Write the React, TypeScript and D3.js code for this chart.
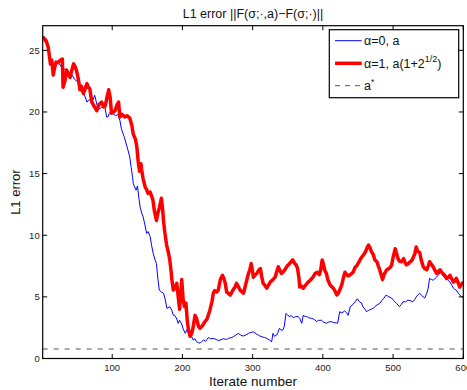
import React from "react";
import * as d3 from "d3";

const redIter = [1,4,7,9,12,14,16,18,20,23,26,29,30,33,35,38,40,42,45,47,49,52,54,56,59,62,64,66,68,71,74,78,81,85,88,90,93,95,97,99,102,104,107,109,111,114,118,121,125,128,130,133,135,137,139,141,142,144,147,149,151,154,156,158,160,163,165,167,170,172,173,175,177.5,180,182,184,185,187,190,192,194,196,198,199,201,203,205,207,209,211,213,215,218,220,223,225,229,232,235,239,242,244,246,249,251,254,257,259,261,263,265,268,272,275,277,279,282,285,287,290,294,296,298,300,301,304,306,309,311,313,315,318,320,323,325,329,332,334,336.5,339,341,343,346,349,351,354,357,360,362,364,366,367,369,372,376,379,382,386,389,392,395,397,399,401,403,405,407,410,413,415,418,420,422,424,427,429,431.5,434,436,439,441,443,446,448,450,453,455,458,461,463,465,467,469,472,474,477,479,481,483,485,487,489,491,494,496,498,500,503,505,507,509,512,515,517,519,522,524,526,528,531,533,535,538,540,543,545,548,550,552,555,557,560,562,564,567,569,571,574,576,579,581,583,586,588,590,593,595,597,600];
const redVal = [26.1,25.9,25.6,25.2,23.9,24.2,23.0,23.6,24.05,24.0,24.2,24.3,22.0,22.6,23.4,23.0,22.8,23.3,23.9,23.7,23.4,22.6,21.8,22.1,21.5,22.0,22.3,22.0,21.9,20.8,20.5,20.1,20.6,20.8,20.4,20.5,21.3,21.8,21.2,19.9,20.0,20.1,20.6,20.8,19.6,19.8,19.6,19.7,19.5,18.9,18.2,17.8,17.2,16.0,15.2,15.8,15.3,14.6,13.9,13.7,13.4,13.5,13.2,12.85,12.0,11.2,11.8,12.2,13.0,12.0,11.2,10.2,9.2,8.6,8.0,7.0,6.4,5.55,5.8,6.1,5.0,4.0,5.5,6.4,4.8,4.2,4.5,3.0,2.2,1.8,2.0,2.45,3.5,3.25,2.6,2.45,2.7,3.0,3.2,3.9,4.6,5.3,5.5,5.4,5.55,6.4,6.75,6.5,6.1,5.4,5.3,5.15,5.55,5.8,6.1,5.9,5.55,5.4,5.3,6.0,6.9,7.2,7.7,7.0,6.6,6.8,6.9,7.2,7.3,6.6,6.1,5.9,5.7,6.0,6.2,6.4,6.6,7.0,7.45,7.1,6.9,7.0,7.2,7.5,7.6,7.8,8.0,7.7,7.6,7.3,6.5,5.8,5.9,5.7,6.0,6.2,6.35,6.6,6.9,7.0,6.8,7.2,8.0,7.6,7.1,6.9,6.4,6.0,5.8,5.7,5.4,5.15,5.3,5.55,6.0,6.5,7.0,6.8,6.7,6.8,6.9,7.0,7.4,7.5,7.7,8.0,8.2,8.4,8.7,9.0,9.2,9.0,8.7,8.4,8.0,7.85,7.5,7.2,6.8,6.4,6.8,7.0,7.2,7.3,7.4,7.6,8.2,8.9,8.5,8.1,7.9,7.85,8.1,7.8,7.6,7.7,7.85,7.9,8.1,8.5,9.05,8.7,8.6,8.0,7.45,7.3,7.2,7.5,7.85,7.6,7.45,7.1,6.9,7.0,7.2,7.0,6.9,6.7,6.5,6.6,6.75,6.5,6.2,6.3,6.5,6.1,5.8,6.0,6.2];

const blueIter = [1,4,7,9,11,13,15,18,21,25,28,30,33,37,40,43,46,49,52,54,57,59,61,64,67,70,73,75,77,80,83,87,90,92,94,96,99,102,105,108,111,113,115,117,120,122,125,127,129,130,132,134,136,138,140,142,144,146,149,151,154,156,158.5,161,163,165,167,170,173,175,178,182,185,187,189,192,194,196,199,201,204,208,211,213,215.5,218,220,223,225,228,230,233,235,237,240,244,248,251,254,258,263,266,270,272.5,276,279.5,283,286.6,290,294,297,301,305,308,310.5,314,317,320,324,327,329,331,334,336,338,341,343,345,347.5,350,353,355,358,361,365,367,370,372,375,377,380,384,387,391,394,398,401,405,408,412,416,419,421,424,427,431,434,436,439,443,446,449,452,455,457,460,462,465,469,472,476,479,481,484,487,490,494,498,501,505,509,512,514,518,521,524,528,531,533,536,538,541,545,548,550,552,555,557,560,562,565,567,569,571,574,576,579,581,584,586,588,590,593,595,598,600];
const blueVal = [26.2,26.0,25.9,25.2,24.7,24.0,23.6,23.8,24.0,23.9,23.6,23.4,23.5,22.9,23.2,23.0,22.7,22.5,22.4,22.2,21.6,21.5,21.3,20.8,21.0,20.9,21.0,21.35,20.9,20.2,20.3,20.5,20.3,19.6,19.6,19.9,20.1,19.8,19.7,19.8,19.3,18.65,18.3,18.0,17.4,17.0,16.35,15.5,14.7,14.2,13.9,13.65,14.0,13.0,12.2,11.8,11.5,11.0,10.15,10.3,9.9,9.2,8.5,8.0,7.7,6.5,5.55,5.4,5.3,4.9,4.07,4.2,3.9,3.5,3.5,3.2,2.85,3.1,2.8,2.4,2.05,2.5,2.2,1.8,1.5,1.6,1.36,1.3,1.23,1.4,1.5,1.4,1.55,1.7,1.6,1.63,1.55,1.45,1.5,1.6,1.55,1.65,1.7,1.77,1.9,2.04,1.9,1.82,1.9,2.04,2.1,2.17,2.0,1.9,1.82,1.75,1.7,1.63,1.5,1.36,2.04,1.8,1.9,2.1,2.45,2.3,2.3,2.6,3.65,3.5,3.4,3.5,3.3,3.4,3.4,3.25,2.85,3.5,3.4,3.4,3.3,3.25,3.2,3.0,3.1,3.1,2.95,2.85,2.95,3.0,2.9,2.9,2.85,3.8,3.7,3.85,3.7,3.5,4.2,4.4,4.6,4.85,4.6,4.5,4.2,4.0,3.8,3.9,4.0,4.1,4.3,4.4,4.47,4.7,4.9,5.15,5.0,4.9,4.7,4.47,4.2,4.4,4.6,4.6,4.74,4.7,4.6,4.8,5.0,5.2,5.3,5.1,4.9,5.3,5.7,6.5,6.4,6.35,6.5,6.6,6.8,7.0,6.9,6.7,6.6,6.5,6.3,6.2,5.9,5.7,5.6,5.55,5.3,5.15,5.0,4.9];

const aStar = 0.77;
const xTicks = [100, 200, 300, 400, 500, 600];
const yTicks = [0, 5, 10, 15, 20, 25];
const xDomain = [1, 600];
const yDomain = [0, 27];

const W = 467, H = 390;
const L = 42.7, R = 463.3, T = 25.7, B = 358.5;
const FONT = "'Liberation Sans', Arial, Helvetica, sans-serif";

export default function App() {
  const x = d3.scaleLinear().domain(xDomain).range([L, R]);
  const y = d3.scaleLinear().domain(yDomain).range([B, T]);
  const line = d3.line<[number, number]>().x(d => x(d[0])).y(d => y(d[1]));
  const red = line(redIter.map((it, i) => [it, redVal[i]]) as [number, number][]) || "";
  const blue = line(blueIter.map((it, i) => [it, blueVal[i]]) as [number, number][]) || "";
  const tl = 4.5;

  const legX = 329.3, legY = 29.7, legW = 129.4, legH = 68;
  const lx1 = 335, lx2 = 361.7, tx = 364;
  const rows = [40.7, 63.3, 85.7];

  return (
    <svg width={W} height={H} style={{ position: "absolute", left: 0, top: 0, background: "#fff" }} fontFamily={FONT}>
      <rect x={0} y={0} width={W} height={H} fill="#fff" />
      <defs>
        <clipPath id="plotclip">
          <rect x={L} y={T} width={R - L} height={B - T} />
        </clipPath>
      </defs>
      <g clipPath="url(#plotclip)">
        <line x1={L} x2={R} y1={y(aStar)} y2={y(aStar)} stroke="#555" strokeWidth={1} strokeDasharray="5,6" />
        <path d={blue} fill="none" stroke="#0000ff" strokeWidth={1} strokeLinejoin="round" />
        <path d={red} fill="none" stroke="#ff0000" strokeWidth={3.5} strokeLinejoin="round" />
      </g>
      <rect x={L} y={T} width={R - L} height={B - T} fill="none" stroke="#000" strokeWidth={1.2} />
      {xTicks.map(t => (
        <g key={"x" + t}>
          <line x1={x(t)} x2={x(t)} y1={B} y2={B - tl} stroke="#000" />
          <line x1={x(t)} x2={x(t)} y1={T} y2={T + tl} stroke="#000" />
          <text x={x(t)} y={371} fontSize={9.5} textAnchor="middle" fill="#222">{t}</text>
        </g>
      ))}
      {yTicks.map(t => (
        <g key={"y" + t}>
          <line x1={L} x2={L + tl} y1={y(t)} y2={y(t)} stroke="#000" />
          <line x1={R} x2={R - tl} y1={y(t)} y2={y(t)} stroke="#000" />
          <text x={L - 3} y={y(t) + 3.3} fontSize={9.5} textAnchor="end" fill="#222">{t}</text>
        </g>
      ))}
      <text x={(L + R) / 2} y={17.5} fontSize={12.5} textAnchor="middle" fill="#111">L1 error ||F(σ;·,a)−F(σ;·)||</text>
      <text x={(L + R) / 2} y={386} fontSize={13.5} textAnchor="middle" fill="#111">Iterate number</text>
      <text transform={`translate(20,${(T + B) / 2}) rotate(-90)`} fontSize={13} textAnchor="middle" fill="#111">L1 error</text>
      <rect x={legX} y={legY} width={legW} height={legH} fill="#fff" stroke="#000" strokeWidth={1.2} />
      <line x1={lx1} x2={lx2} y1={rows[0]} y2={rows[0]} stroke="#0000ff" strokeWidth={1} />
      <line x1={lx1} x2={lx2} y1={rows[1]} y2={rows[1]} stroke="#ff0000" strokeWidth={3.5} />
      <line x1={lx1} x2={lx2} y1={rows[2]} y2={rows[2]} stroke="#555" strokeWidth={1} strokeDasharray="5,5" />
      <text x={tx} y={rows[0] + 4.5} fontSize={12.5} fill="#111">α=0, a</text>
      <text x={tx} y={rows[1] + 4.5} fontSize={12.5} fill="#111">α=1, a(1+2<tspan dy={-5.5} fontSize={9}>1/2</tspan><tspan dy={5.5}>)</tspan></text>
      <text x={tx} y={rows[2] + 4.5} fontSize={12.5} fill="#111">a<tspan dy={-5.5} fontSize={8.5}>*</tspan></text>
    </svg>
  );
}
